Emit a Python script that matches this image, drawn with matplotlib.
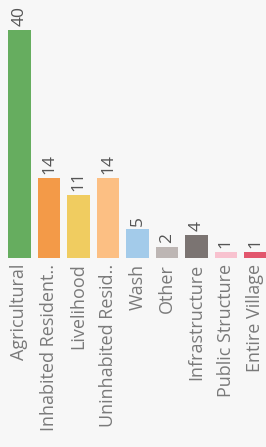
# Bar chart of damage categories (rotated labels)

import matplotlib.pyplot as plt

categories = [
    "Agricultural",
    "Inhabited Resident..",
    "Livelihood",
    "Uninhabited Resid..",
    "Wash",
    "Other",
    "Infrastructure",
    "Public Structure",
    "Entire Village",
]
values = [40, 14, 11, 14, 5, 2, 4, 1, 1]
colors = [
    "#66ad5f",
    "#f39a48",
    "#f0cc60",
    "#fcbf83",
    "#a3cbea",
    "#bdb6b4",
    "#7b7472",
    "#f8c2cf",
    "#e2566d",
]

bg = "#f7f7f7"
fig = plt.figure(figsize=(2.66, 4.47), dpi=100, facecolor=bg)
ax = fig.add_axes([0, 189 / 447, 1, 258 / 447])
ax.set_facecolor(bg)

x = list(range(len(categories)))
ax.bar(x, values, width=0.77, color=colors)

for xi, v in zip(x, values):
    ax.text(xi, v + 0.7, str(v), rotation=90, ha="center", va="bottom",
            fontsize=12.5, color="#555555", family="Open Sans")

for xi, c in zip(x, categories):
    ax.text(xi, -1.0, c, rotation=90, ha="center", va="top",
            fontsize=13, color="#7a7a7a", family="Open Sans", clip_on=False)

ax.set_xlim(-0.66, 8.36)
ax.set_ylim(0, 45.26)
ax.axis("off")

fig.savefig("out.png", dpi=100, facecolor=bg)
